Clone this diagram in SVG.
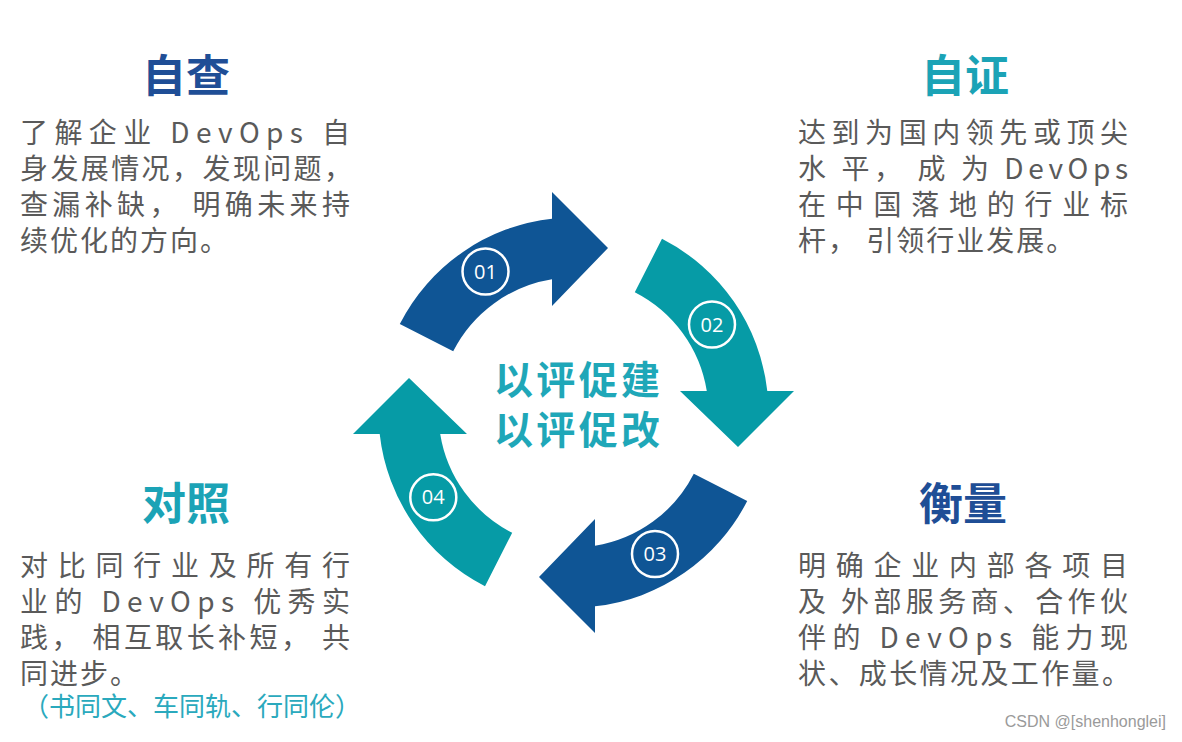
<svg xmlns="http://www.w3.org/2000/svg" width="1182" height="742" viewBox="0 0 1182 742">
<defs>
<style>
.title{font-family:"Noto Sans CJK SC","Noto Sans",sans-serif;font-size:44px;font-weight:700;text-anchor:middle}
.blue{fill:#1f4e96}
.teal{fill:#1ba3b6}
.body{font-family:"Noto Sans CJK SC","Noto Sans",sans-serif;font-size:28px;fill:#5a5a5a;font-weight:400}
.num{font-family:"Open Sans","DejaVu Sans",sans-serif;font-size:20px;fill:#ffffff;text-anchor:middle}
.ring{fill:none;stroke:#ffffff;stroke-width:2.5}
.center{font-family:"Noto Sans CJK SC",sans-serif;font-size:39px;font-weight:700;fill:#1fa7b8}
</style>
<path id="arrow" d="M -173.7 -88.5 A 195 195 0 0 1 -21.5 -193.8 L -21.5 -220.5 L 34.5 -164.5 L -21.5 -106.5 L -21.5 -133.3 A 135 135 0 0 0 -120.3 -61.3 Z"/>
</defs>
<rect width="1182" height="742" fill="#ffffff"/>

<g id="connectors">
<use href="#arrow" transform="translate(573.5 412.5)" fill="#0f5595"/>
<use href="#arrow" transform="translate(573.5 412.5) rotate(90)" fill="#069ba6"/>
<use href="#arrow" transform="translate(573.5 412.5) rotate(180)" fill="#0f5595"/>
<use href="#arrow" transform="translate(573.5 412.5) rotate(270)" fill="#069ba6"/>
</g>

<g id="step01">
<circle class="ring" cx="485.5" cy="271.5" r="23"/>
<text class="num" x="485.5" y="278.5">01</text>
</g>
<g id="step02">
<circle class="ring" cx="712" cy="324.5" r="23"/>
<text class="num" x="712" y="331.5">02</text>
</g>
<g id="step03">
<circle class="ring" cx="655" cy="554" r="23"/>
<text class="num" x="655" y="561">03</text>
</g>
<g id="step04">
<circle class="ring" cx="433.3" cy="497.3" r="23"/>
<text class="num" x="433.3" y="504.3">04</text>
</g>

<g id="center">
<text class="center" x="494" y="394" textLength="166" lengthAdjust="spacing">以评促建</text>
<text class="center" x="494" y="444" textLength="166" lengthAdjust="spacing">以评促改</text>
</g>

<g id="zicha">
<text class="title blue" x="186" y="92">自查</text>
<text class="body" x="20" y="143" textLength="330" lengthAdjust="spacing">了解企业 DevOps 自</text>
<text class="body" x="20" y="179" textLength="332" lengthAdjust="spacing">身发展情况，发现问题，</text>
<text class="body" x="20" y="215" textLength="330" lengthAdjust="spacing">查漏补缺， 明确未来持</text>
<text class="body" x="20" y="251" letter-spacing="2">续优化的方向。</text>
</g>

<g id="zizheng">
<text class="title teal" x="965" y="92">自证</text>
<text class="body" x="798" y="143" textLength="330" lengthAdjust="spacing">达到为国内领先或顶尖</text>
<text class="body" x="798" y="179" textLength="330" lengthAdjust="spacing">水 平， 成 为 DevOps</text>
<text class="body" x="798" y="215" textLength="330" lengthAdjust="spacing">在中国落地的行业标</text>
<text class="body" x="798" y="251" letter-spacing="2">杆， 引领行业发展。</text>
</g>

<g id="duizhao">
<text class="title teal" x="186" y="520">对照</text>
<text class="body" x="20" y="576" textLength="330" lengthAdjust="spacing">对比同行业及所有行</text>
<text class="body" x="20" y="612" textLength="330" lengthAdjust="spacing">业的 DevOps 优秀实</text>
<text class="body" x="20" y="648" textLength="330" lengthAdjust="spacing">践， 相互取长补短， 共</text>
<text class="body" x="20" y="684" letter-spacing="2">同进步。</text>
<text x="192" y="716" font-family="Noto Sans CJK SC,sans-serif" font-size="26" fill="#2aa9bd" text-anchor="middle">（书同文、车同轨、行同伦）</text>
</g>

<g id="hengliang">
<text class="title blue" x="963" y="520">衡量</text>
<text class="body" x="798" y="576" textLength="330" lengthAdjust="spacing">明确企业内部各项目</text>
<text class="body" x="798" y="612" textLength="330" lengthAdjust="spacing">及 外部服务商、合作伙</text>
<text class="body" x="798" y="648" textLength="330" lengthAdjust="spacing">伴的 DevOps 能力现</text>
<text class="body" x="798" y="684" textLength="332" lengthAdjust="spacing">状、成长情况及工作量。</text>
</g>

<text x="1166" y="727" font-family="Liberation Sans,sans-serif" font-size="16" fill="#9a9a9a" text-anchor="end">CSDN @[shenhonglei]</text>
</svg>
